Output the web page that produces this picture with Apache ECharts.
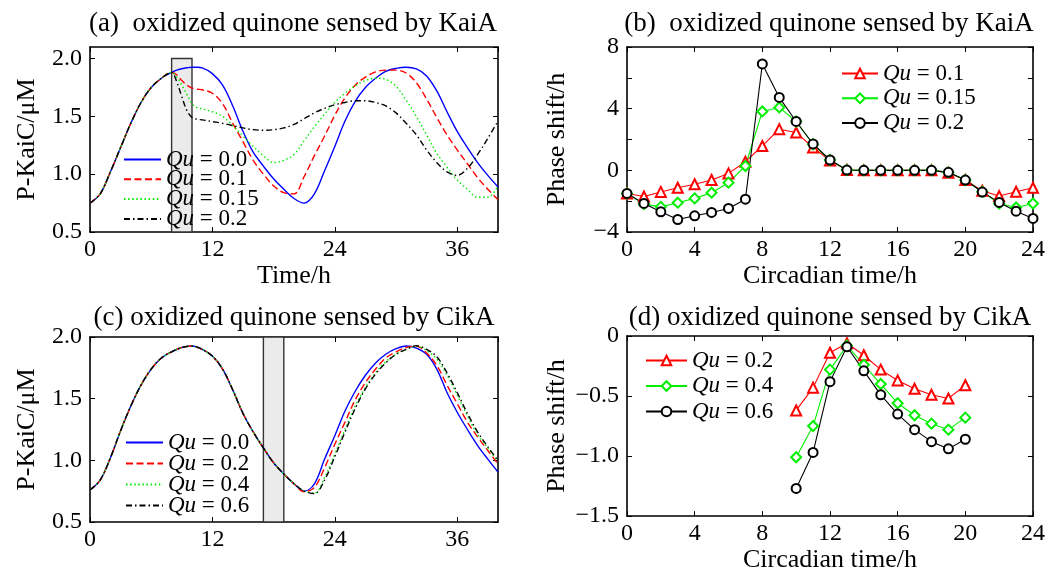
<!DOCTYPE html>
<html>
<head>
<meta charset="utf-8">
<script src="https://cdn.jsdelivr.net/npm/echarts@6/dist/echarts.min.js"></script>
<style>
  html, body { margin: 0; padding: 0; background: #fff; }
  #chart { width: 1048px; height: 574px; }
</style>
</head>
<body>
<div id="chart"></div>
<script>
// ---- (a) P-KaiC time courses, oxidized quinone sensed by KaiA (pulse 8–10 h) ----
const timeA = [0, 1, 2, 3, 4, 5, 6, 7, 8, 8.5, 9, 9.5, 10, 10.5, 11,
  12, 13, 14, 15, 16, 17, 18, 19, 20, 21, 22, 23, 24, 25, 26, 27, 28, 29, 30,
  31, 32, 33, 34, 35, 36, 37, 38, 39, 40];
const kaiA_qu00 = [0.75, 0.83, 1.02, 1.23, 1.44, 1.62, 1.75, 1.83, 1.88, 1.90, 1.912, 1.92, 1.925, 1.925, 1.92,
  1.87, 1.77, 1.59, 1.37, 1.19, 1.07, 0.96, 0.87, 0.79, 0.75, 0.83, 1.03, 1.24, 1.46, 1.63, 1.75, 1.83, 1.89, 1.915,
  1.925, 1.91, 1.85, 1.72, 1.54, 1.37, 1.23, 1.10, 0.99, 0.89];
const kaiA_qu01 = [0.75, 0.83, 1.02, 1.23, 1.44, 1.62, 1.75, 1.83, 1.88, 1.86, 1.81, 1.77, 1.745, 1.735, 1.73,
  1.70, 1.61, 1.44, 1.28, 1.12, 1.00, 0.90, 0.84, 0.83, 0.98, 1.16, 1.33, 1.51, 1.66, 1.77, 1.84, 1.885, 1.90, 1.90,
  1.875, 1.79, 1.65, 1.49, 1.34, 1.21, 1.09, 0.97, 0.87, 0.78];
const kaiA_qu015 = [0.75, 0.83, 1.02, 1.23, 1.44, 1.62, 1.75, 1.83, 1.88, 1.84, 1.77, 1.69, 1.61, 1.575, 1.565,
  1.54, 1.50, 1.42, 1.33, 1.24, 1.16, 1.10, 1.12, 1.17, 1.29, 1.41, 1.52, 1.62, 1.70, 1.765, 1.81, 1.83, 1.82, 1.76,
  1.64, 1.50, 1.34, 1.18, 1.06, 0.95, 0.87, 0.80, 0.80, 0.90];
const kaiA_qu02 = [0.75, 0.83, 1.02, 1.23, 1.44, 1.62, 1.75, 1.83, 1.88, 1.80, 1.67, 1.55, 1.49, 1.475, 1.47,
  1.455, 1.44, 1.42, 1.40, 1.385, 1.38, 1.385, 1.40, 1.43, 1.48, 1.53, 1.57, 1.60, 1.62, 1.635, 1.635, 1.62, 1.59, 1.53,
  1.44, 1.34, 1.21, 1.10, 1.02, 0.99, 1.05, 1.17, 1.31, 1.46];
const pulseA = [[8, 10, 0.5, 2.0]];

// ---- (c) P-KaiC time courses, oxidized quinone sensed by CikA (pulse 17–19 h) ----
const timeC = [0, 1, 2, 3, 4, 5, 6, 7, 8, 9, 10, 11, 12, 13, 14, 15, 16, 17, 18, 19, 20,
  21, 22, 23, 24, 25, 26, 27, 28, 29, 30, 31, 32, 33, 34, 35, 36, 37, 38, 39, 40];
const cikA_qu00 = [0.76, 0.84, 1.02, 1.24, 1.44, 1.61, 1.74, 1.83, 1.88, 1.915, 1.927, 1.90, 1.845, 1.74, 1.57, 1.38, 1.23, 1.10, 0.98, 0.89, 0.81,
  0.75, 0.81, 1.01, 1.20, 1.40, 1.56, 1.69, 1.79, 1.86, 1.905, 1.927, 1.91, 1.86, 1.74, 1.55, 1.39, 1.25, 1.12, 1.01, 0.905];
const cikA_qu02 = [0.76, 0.84, 1.02, 1.24, 1.44, 1.61, 1.74, 1.83, 1.88, 1.915, 1.927, 1.90, 1.845, 1.74, 1.57, 1.38, 1.23, 1.10, 0.98, 0.89, 0.81,
  0.745, 0.78, 0.94, 1.13, 1.31, 1.49, 1.63, 1.74, 1.83, 1.88, 1.915, 1.925, 1.87, 1.77, 1.61, 1.46, 1.31, 1.19, 1.08, 0.97];
const cikA_qu04 = [0.76, 0.84, 1.02, 1.24, 1.44, 1.61, 1.74, 1.83, 1.88, 1.915, 1.927, 1.90, 1.845, 1.74, 1.57, 1.38, 1.23, 1.10, 0.98, 0.89, 0.81,
  0.75, 0.735, 0.86, 1.05, 1.25, 1.44, 1.59, 1.71, 1.80, 1.86, 1.90, 1.925, 1.89, 1.82, 1.69, 1.53, 1.36, 1.21, 1.10, 0.99];
const cikA_qu06 = [0.76, 0.84, 1.02, 1.24, 1.44, 1.61, 1.74, 1.83, 1.88, 1.915, 1.927, 1.90, 1.845, 1.74, 1.57, 1.38, 1.23, 1.10, 0.98, 0.89, 0.81,
  0.75, 0.73, 0.84, 1.03, 1.23, 1.42, 1.58, 1.70, 1.79, 1.86, 1.90, 1.93, 1.90, 1.84, 1.71, 1.55, 1.38, 1.23, 1.11, 1.00];
const pulseC = [[17, 19, 0.5, 2.0]];

// ---- (b) phase response curves, KaiA sensing ----
const ctB = [0, 1, 2, 3, 4, 5, 6, 7, 8, 9, 10, 11, 12, 13, 14, 15, 16, 17, 18, 19, 20, 21, 22, 23, 24];
const prcKaiA_qu01 = [-1.5, -1.7, -1.4, -1.13, -0.9, -0.63, -0.2, 0.56, 1.58, 2.67, 2.45, 1.48, 0.63, 0.02, 0, 0, 0, 0, 0, -0.15, -0.63, -1.32, -1.67, -1.39, -1.13];
const prcKaiA_qu015 = [-1.5, -2.19, -2.37, -2.1, -1.82, -1.45, -0.8, 0.28, 3.82, 4.08, 3.17, 1.69, 0.67, 0.02, 0, 0, 0, 0, 0, -0.13, -0.63, -1.39, -2.15, -2.41, -2.15];
const prcKaiA_qu02 = [-1.5, -2.15, -2.69, -3.19, -2.95, -2.73, -2.47, -1.87, 6.9, 4.73, 3.17, 1.71, 0.67, 0.02, 0, 0, 0, 0, 0, -0.13, -0.63, -1.41, -2.08, -2.65, -3.12];

// ---- (d) phase response curves, CikA sensing ----
const ctD = [10, 11, 12, 13, 14, 15, 16, 17, 18, 19, 20];
const prcCikA_qu02 = [-0.62, -0.43, -0.14, -0.06, -0.16, -0.28, -0.37, -0.44, -0.49, -0.52, -0.41];
const prcCikA_qu04 = [-1.01, -0.75, -0.28, -0.08, -0.24, -0.40, -0.56, -0.66, -0.73, -0.78, -0.68];
const prcCikA_qu06 = [-1.27, -0.97, -0.38, -0.09, -0.29, -0.49, -0.65, -0.78, -0.88, -0.94, -0.86];

// ---- tick labels ----
const ticksTime = [0, 12, 24, 36];
const ticksCT = [0, 4, 8, 12, 16, 20, 24];

const FONT = 'Liberation Serif';
const BLUE = '#0000ff', RED = '#ff0000', GREEN = '#00ee00', BLACK = '#000000';

const zip = (xs, ys) => xs.map((x, i) => [x, ys[i]]);
const minus = s => String(s).replace('-', '\u2212');

const grids = [
  { left: 90, top: 47, width: 408, height: 185 },   // (a)
  { left: 627, top: 47, width: 406, height: 185 },  // (b)
  { left: 90, top: 337, width: 408, height: 185 },  // (c)
  { left: 627, top: 336, width: 406, height: 185 }  // (d)
];

const frameLine = { show: true, onZero: false, lineStyle: { color: '#000', width: 1.6 } };
const tick = { show: true, inside: true, length: 5, lineStyle: { color: '#000', width: 1 } };
const labelStyle = { fontFamily: FONT, fontSize: 24, color: '#000' };
const nameStyle = { fontFamily: FONT, fontSize: 26, color: '#000' };

function xPair(g, min, max, interval, ticks, name, gap) {
  return [
    {
      type: 'value', gridIndex: g, position: 'bottom', min, max, interval,
      axisLine: frameLine, axisTick: tick, splitLine: { show: false },
      axisLabel: Object.assign({ margin: 6, showMaxLabel: ticks.includes(max),
        formatter: v => ticks.includes(v) ? String(v) : '' }, labelStyle),
      name: name || '', nameLocation: 'middle', nameGap: gap || 0, nameTextStyle: nameStyle
    },
    {
      type: 'value', gridIndex: g, position: 'top', min, max, interval,
      axisLine: frameLine, axisTick: tick, splitLine: { show: false }, axisLabel: { show: false }
    }
  ];
}

function yPair(g, min, max, interval, fmt, name, gap, minor) {
  const minorTick = minor ? { show: true, splitNumber: minor, length: 5, lineStyle: { color: '#000', width: 1 } } : { show: false };
  return [
    {
      type: 'value', gridIndex: g, position: 'left', min, max, interval,
      axisLine: frameLine, axisTick: tick, minorTick, splitLine: { show: false }, minorSplitLine: { show: false },
      axisLabel: Object.assign({ margin: 8, showMaxLabel: fmt(max) !== null, formatter: v => fmt(v) || '' }, labelStyle),
      name, nameLocation: 'middle', nameGap: gap, nameTextStyle: nameStyle
    },
    {
      type: 'value', gridIndex: g, position: 'right', min, max, interval,
      axisLine: frameLine, axisTick: tick, minorTick, splitLine: { show: false }, minorSplitLine: { show: false },
      axisLabel: { show: false }
    }
  ];
}

const fmtConc = v => (Math.abs(v - 2.1) < 1e-6 ? null : v.toFixed(1));
const fmtShiftB = v => minus(v);
const fmtShiftD = v => (v === 0 ? '0' : minus(v.toFixed(1)));

const xAxes = [].concat(
  xPair(0, 0, 40, 12, ticksTime, 'Time/h', 31),
  xPair(1, 0, 24, 4, ticksCT, 'Circadian time/h', 22),
  xPair(2, 0, 40, 12, ticksTime, '', 0),
  xPair(3, 0, 24, 4, ticksCT, 'Circadian time/h', 25)
);
const yAxes = [].concat(
  yPair(0, 0.5, 2.1, 0.5, fmtConc, 'P-KaiC/\u03bcM', 50, 0),
  yPair(1, -4, 8, 4, fmtShiftB, 'Phase shift/h', 57, 2),
  yPair(2, 0.5, 2.0, 0.5, v => v.toFixed(1), 'P-KaiC/\u03bcM', 50, 0),
  yPair(3, -1.5, 0, 0.5, fmtShiftD, 'Phase shift/h', 57, 0)
);

// grid g draws on its bottom/left axes (index 2g)
function curve(g, name, xs, ys, color, dash, z) {
  return {
    type: 'line', name, xAxisIndex: 2 * g, yAxisIndex: 2 * g, data: zip(xs, ys),
    smooth: 0.35, symbol: 'none', showSymbol: false, z,
    lineStyle: { color, width: 1.4, type: dash }, itemStyle: { color }
  };
}
function prc(g, name, xs, ys, color, symbol, size) {
  return {
    type: 'line', name, xAxisIndex: 2 * g, yAxisIndex: 2 * g, data: zip(xs, ys),
    symbol, symbolSize: size, showSymbol: true,
    lineStyle: { color, width: 1.1 }, itemStyle: { color, borderColor: color, borderWidth: 1.1 }
  };
}
function pulse(g, box) {
  return {
    type: 'custom', xAxisIndex: 2 * g, yAxisIndex: 2 * g, data: box, z: 1, silent: true,
    renderItem: (params, api) => {
      const p0 = api.coord([api.value(0), api.value(3)]);
      const p1 = api.coord([api.value(1), api.value(2)]);
      return {
        type: 'rect',
        shape: { x: p0[0], y: p0[1], width: p1[0] - p0[0], height: p1[1] - p0[1] },
        style: { fill: '#ebebeb', stroke: '#333', lineWidth: 1.4 }
      };
    }
  };
}

const DASH = [7, 3.5], DOT = [1.5, 2.6], DASHDOT = [6, 3, 1.5, 3];

const series = [
  pulse(0, pulseA),
  curve(0, 'Qu=0.0 a', timeA, kaiA_qu00, BLUE, 'solid', 3),
  curve(0, 'Qu=0.1 a', timeA, kaiA_qu01, RED, DASH, 4),
  curve(0, 'Qu=0.15 a', timeA, kaiA_qu015, GREEN, DOT, 5),
  curve(0, 'Qu=0.2 a', timeA, kaiA_qu02, BLACK, DASHDOT, 6),

  prc(1, 'Qu=0.1 b', ctB, prcKaiA_qu01, RED, 'emptyTriangle', 10),
  prc(1, 'Qu=0.15 b', ctB, prcKaiA_qu015, GREEN, 'emptyDiamond', 10),
  prc(1, 'Qu=0.2 b', ctB, prcKaiA_qu02, BLACK, 'emptyCircle', 9),

  pulse(2, pulseC),
  curve(2, 'Qu=0.0 c', timeC, cikA_qu00, BLUE, 'solid', 3),
  curve(2, 'Qu=0.2 c', timeC, cikA_qu02, RED, DASH, 4),
  curve(2, 'Qu=0.4 c', timeC, cikA_qu04, GREEN, DOT, 5),
  curve(2, 'Qu=0.6 c', timeC, cikA_qu06, BLACK, DASHDOT, 6),

  prc(3, 'Qu=0.2 d', ctD, prcCikA_qu02, RED, 'emptyTriangle', 10),
  prc(3, 'Qu=0.4 d', ctD, prcCikA_qu04, GREEN, 'emptyDiamond', 10),
  prc(3, 'Qu=0.6 d', ctD, prcCikA_qu06, BLACK, 'emptyCircle', 9)
];

// rows are ~23 px tall at this font size; itemGap tunes the spacing
function legend(names, left, top, gap, itemW, lineOnly) {
  return {
    data: names, orient: 'vertical', left, top, padding: 0,
    itemWidth: itemW, itemHeight: 12, itemGap: gap, selectedMode: false,
    itemStyle: lineOnly ? { opacity: 0 } : {},
    formatter: n => '{i|Qu} = ' + n.split(' ')[0].split('=')[1],
    textStyle: {
      fontFamily: FONT, fontSize: 23, color: '#000', lineHeight: 23,
      rich: { i: { fontStyle: 'italic', fontFamily: FONT, fontSize: 23, lineHeight: 23 } }
    }
  };
}

const titleText = (text, x, y) => ({
  text, left: x, top: y, textAlign: 'center', padding: 0,
  textStyle: { fontFamily: FONT, fontSize: 27, fontWeight: 'normal', color: '#000' }
});

const option = {
  backgroundColor: '#fff',
  animation: false,
  title: [
    titleText('(a)  oxidized quinone sensed by KaiA', 293, 10),
    titleText('(b)  oxidized quinone sensed by KaiA', 829, 10),
    titleText('(c) oxidized quinone sensed by CikA', 294, 304),
    titleText('(d) oxidized quinone sensed by CikA', 830, 304)
  ],
  grid: grids,
  xAxis: xAxes,
  yAxis: yAxes,
  legend: [
    legend(['Qu=0.0 a', 'Qu=0.1 a', 'Qu=0.15 a', 'Qu=0.2 a'], 123, 148, -3.2, 37, true),
    legend(['Qu=0.1 b', 'Qu=0.15 b', 'Qu=0.2 b'], 841, 62, 1.8, 36, false),
    legend(['Qu=0.0 c', 'Qu=0.2 c', 'Qu=0.4 c', 'Qu=0.6 c'], 125, 431, -2, 37, true),
    legend(['Qu=0.2 d', 'Qu=0.4 d', 'Qu=0.6 d'], 645, 349, 2.5, 41, false)
  ],
  series
};

const chart = echarts.init(document.getElementById('chart'), null, { renderer: 'canvas' });
chart.setOption(option);
</script>
</body>
</html>
